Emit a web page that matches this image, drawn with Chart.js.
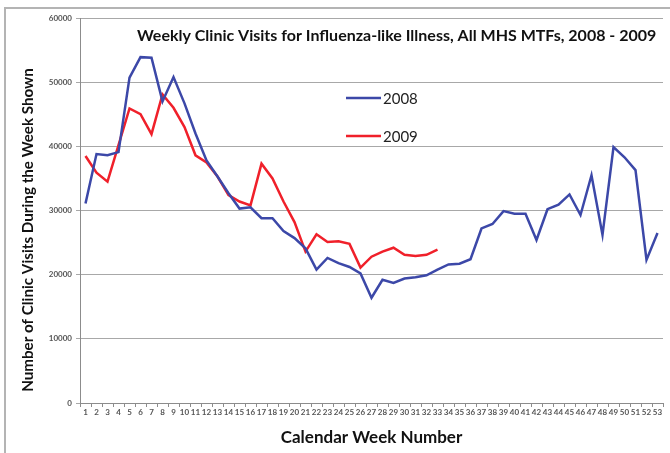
<!DOCTYPE html>
<html>
<head>
<meta charset="utf-8">
<script src="https://cdn.jsdelivr.net/npm/chart.js@4.4.1/dist/chart.umd.min.js"></script>
<style>
  html, body { margin: 0; padding: 0; background: #fff; }
  #wrap { width: 670px; height: 453px; position: relative; }
</style>
</head>
<body>
<div id="wrap"><canvas id="fluChart" width="670" height="453"></canvas></div>
<script>
const weeks = ['1','2','3','4','5','6','7','8','9','10','11','12','13','14','15','16','17','18','19','20',
    '21','22','23','24','25','26','27','28','29','30','31','32','33','34','35','36','37','38','39','40',
    '41','42','43','44','45','46','47','48','49','50','51','52','53'];

const visits2008 = [31100, 38800, 38600, 39100, 50700, 53900, 53800, 47000, 50800, 46700,
    42000, 37800, 35300, 32700, 30300, 30500, 28800, 28800, 26800, 25700,
    24100, 20800, 22600, 21800, 21200, 20200, 16400, 19200, 18700, 19400,
    19600, 19900, 20800, 21600, 21700, 22400, 27200, 27900, 29900, 29500,
    29500, 25400, 30200, 30900, 32500, 29300, 35500, 26200, 39900, 38300,
    36300, 22300, 26500];

const visits2009 = [38500, 35900, 34500, 40200, 45900, 45000, 41900, 48100, 46000, 43000,
    38600, 37500, 35300, 32400, 31400, 30800, 37300, 35000, 31400, 28200,
    23600, 26300, 25100, 25200, 24800, 21100, 22800, 23600, 24200, 23100,
    22900, 23100, 23900];

const yTicks = [0, 10000, 20000, 30000, 40000, 50000, 60000];

const chartTitle = 'Weekly Clinic Visits for Influenza-like Illness, All MHS MTFs, 2008 - 2009';
const yAxisTitle = 'Number of Clinic Visits During the Week Shown';

// Frame, titles and in-plot legend like the Excel original
const decorPlugin = {
    id: 'decor',
    beforeDraw(chart) {
        const ctx = chart.ctx;
        ctx.save();
        ctx.strokeStyle = '#b4b4b4';
        ctx.lineWidth = 2;
        ctx.beginPath();
        ctx.moveTo(5, 453);
        ctx.lineTo(5, 8);
        ctx.lineTo(670, 8);
        ctx.stroke();
        ctx.restore();
    },
    afterDraw(chart) {
        const ctx = chart.ctx;
        const area = chart.chartArea;
        ctx.save();
        ctx.fillStyle = '#111';
        ctx.font = 'bold 16px Lato';
        ctx.textBaseline = 'middle';
        ctx.textAlign = 'left';
        ctx.fillText(chartTitle, area.left + 57, 36);

        // y axis title, placed off-centre as in the original
        ctx.save();
        ctx.translate(28, 230);
        ctx.rotate(-Math.PI / 2);
        ctx.textAlign = 'center';
        ctx.font = 'bold 15.2px Lato';
        ctx.fillText(yAxisTitle, 0, 0);
        ctx.restore();

        chart.data.datasets.forEach((ds, i) => {
            const y = 98 + i * 38;
            ctx.strokeStyle = ds.borderColor;
            ctx.lineWidth = 2.5;
            ctx.beginPath();
            ctx.moveTo(346, y);
            ctx.lineTo(381, y);
            ctx.stroke();
            ctx.fillStyle = '#222';
            ctx.font = '15px Lato';
            ctx.fillText(ds.label, 383, y + 1);
        });
        ctx.restore();
    }
};

const ctx = document.getElementById('fluChart').getContext('2d');
const fluChart = new Chart(ctx, {
    type: 'line',
    data: {
        labels: weeks,
        datasets: [
            {
                label: '2008',
                data: visits2008,
                borderColor: '#3c48a8',
                borderWidth: 2.5,
                pointRadius: 0,
                tension: 0,
                fill: false
            },
            {
                label: '2009',
                data: visits2009,
                borderColor: '#f0202a',
                borderWidth: 2.5,
                pointRadius: 0,
                tension: 0,
                fill: false
            }
        ]
    },
    options: {
        responsive: false,
        animation: false,
        layout: {
            padding: { top: 18, right: 7, left: 0, bottom: 0 }
        },
        plugins: {
            legend: { display: false },
            tooltip: { enabled: false }
        },
        scales: {
            x: {
                offset: true,
                grid: {
                    offset: true,
                    drawOnChartArea: false,
                    drawTicks: true,
                    tickLength: 4,
                    color: '#8c8c8c'
                },
                border: { color: '#8c8c8c', width: 1 },
                ticks: {
                    autoSkip: false,
                    maxRotation: 0,
                    padding: 1,
                    color: '#555',
                    font: { family: 'Lato', size: 8, weight: 'bold' }
                },
                title: {
                    display: true,
                    text: 'Calendar Week Number',
                    color: '#111',
                    font: { family: 'Lato', size: 17, weight: 'bold' },
                    padding: { top: 0, bottom: 5 }
                },
                afterFit(scale) {
                    scale.height = 50;
                }
            },
            y: {
                min: 0,
                max: 60000,
                grid: {
                    color: '#a8a8a8',
                    lineWidth: 1,
                    tickLength: 4
                },
                border: { color: '#8c8c8c', width: 1 },
                afterBuildTicks(scale) {
                    scale.ticks = yTicks.map(v => ({ value: v }));
                },
                ticks: {
                    padding: 4,
                    color: '#555',
                    font: { family: 'Lato', size: 8, weight: 'bold' },
                    callback: value => String(value)
                },
                afterFit(scale) {
                    scale.width = 80;
                }
            }
        }
    },
    plugins: [decorPlugin]
});
</script>
</body>
</html>
